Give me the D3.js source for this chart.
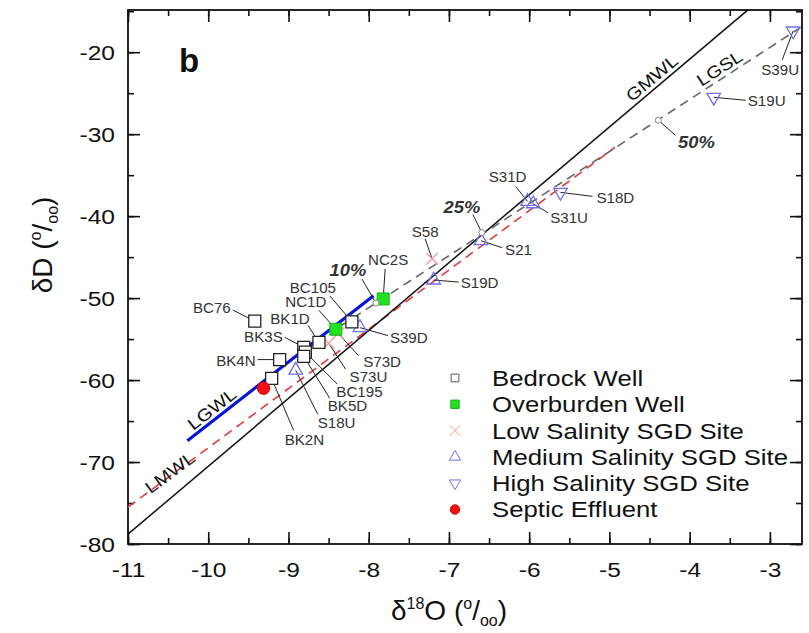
<!DOCTYPE html>
<html>
<head>
<meta charset="utf-8">
<script src="https://cdn.jsdelivr.net/npm/d3@7"></script>
<style>
  body { margin: 0; background: #fff; }
  text { font-family: "Liberation Sans", Arial, sans-serif; fill: #111; }
</style>
</head>
<body>
<div id="chart"></div>
<script>
// data: [name, d18O, dD]
var bedrockWells = [
  ["BC76", -9.42, -52.8], ["BK4N", -9.11, -57.5], ["BK2N", -9.21, -59.8],
  ["BK3S", -8.81, -56.0], ["BC195", -8.79, -56.6], ["BK5D", -8.81, -57.1],
  ["BK1D", -8.62, -55.4], ["BC105", -8.21, -52.9]
];
var overburdenWells = [["NC1D", -8.41, -53.8], ["NC2S", -7.82, -50.1]];
var lowSalinity = [["S73D", -8.38, -54.3], ["S73U", -8.50, -55.5], ["S58", -7.21, -45.2]];
var mediumSalinity = [
  ["S39D", -8.11, -53.6], ["S18U", -8.91, -58.8], ["S19D", -7.19, -47.8],
  ["S21", -6.60, -43.0], ["S31D", -6.02, -38.2], ["S31U", -5.95, -38.5]
];
var highSalinity = [["S18D", -5.61, -37.1], ["S19U", -3.70, -25.5], ["S39U", -2.71, -17.4]];
var septicEffluent = [["Septic", -9.31, -61.0]];
var mixingPoints = [["10%", -7.91, -50.6], ["25%", -6.59, -42.0], ["50%", -4.39, -28.3]];

// lines (end points)
var gmwl = [[-11, -78.8], [-3.27, -14.8]];
var lmwl = [[-11, -75.5], [-4.93, -31.6]];
var lgwl = [[-10.26, -67.4], [-7.94, -49.7]];
var lgsl = [[-8.35, -53.4], [-2.62, -17.0]];

var xTicks = [-11, -10, -9, -8, -7, -6, -5, -4, -3];
var yTicks = [-80, -70, -60, -50, -40, -30, -20];
var legendNames = ["Bedrock Well", "Overburden Well", "Low Salinity SGD Site",
  "Medium Salinity SGD Site", "High Salinity SGD Site", "Septic Effluent"];

// label layout: [name, text dx, text dy, anchor, leader dx, leader dy] (pixels from point)
var labelLayout = [
  ["BC76", -24, -13, "end", -22, -11],
  ["BK1D", -29, -23, "middle", -11, -17],
  ["BK3S", -21, -10, "end", -19, -10],
  ["BC195", 31, 40, "start", 32, 32],
  ["BK5D", 24, 50, "start", 26, 42],
  ["BK4N", -24, 1, "end", -22, 0],
  ["BK2N", 13, 62, "start", 22, 52],
  ["S18U", 22, 53, "start", 22, 44],
  ["NC1D", -30, -27, "middle", -17, -19],
  ["BC105", -39, -34, "middle", -22, -26],
  ["S39D", 30, 10, "start", 28, 8],
  ["S73D", 25, 29, "start", 20, 22],
  ["S73U", 21, 34, "start", 17, 26],
  ["NC2S", 5, -39, "middle", 2, -30],
  ["S58", -7, -27, "middle", -7, -20],
  ["S19D", 27, 3, "start", 25, 2],
  ["S21", 24, 9, "start", 21, 7],
  ["S31D", -20, -24, "middle", -12, -15],
  ["S31U", 17, 14, "start", 15, 9],
  ["S18D", 36, 6, "start", 32, 4],
  ["S19U", 34, 4, "start", 32, 3],
  ["S39U", -13, 39, "middle", -11, 29],
  ["10%", -28, -33, "middle", -14, -24],
  ["25%", -20, -26, "middle", -9, -18],
  ["50%", 38, 22, "middle", 17, 15]
];

var svgWidth = 809, svgHeight = 633;
var margin = { top: 10, right: 7, bottom: 89, left: 128 };
var width = svgWidth - margin.left - margin.right;
var height = svgHeight - margin.top - margin.bottom;
var stretch = 1.17;

var svg = d3.select("#chart").append("svg")
  .attr("width", svgWidth).attr("height", svgHeight);
var chart = svg.append("g")
  .attr("transform", "translate(" + margin.left + "," + margin.top + ")");

var x = d3.scaleLinear().domain([-11, -2.6]).range([0, width]);
var y = d3.scaleLinear().domain([-80, -14.85]).range([height, 0]);

var minorX = d3.range(-11, -2.5, 0.5);
var minorY = d3.range(-80, -14, 5);

function drawAxis(axisFn, values, size, transform, withLabels) {
  var g = chart.append("g").attr("transform", transform)
    .call(axisFn.tickValues(values).tickSizeInner(-size).tickSizeOuter(0)
      .tickFormat(withLabels ? function(d) { return String(d); } : ""));
  g.select(".domain").remove();
  g.selectAll(".tick line").attr("stroke", "#111").attr("stroke-width", 1.6);
  return g;
}
// minor and major ticks on all four sides
drawAxis(d3.axisBottom(x), minorX, 6, "translate(0," + height + ")", false);
drawAxis(d3.axisTop(x), minorX, 6, "translate(0,0)", false);
drawAxis(d3.axisLeft(y), minorY, 6, "translate(0,0)", false);
drawAxis(d3.axisRight(y), minorY, 6, "translate(" + width + ",0)", false);
drawAxis(d3.axisTop(x), xTicks, 12, "translate(0,0)", false);
drawAxis(d3.axisRight(y), yTicks, 12, "translate(" + width + ",0)", false);

var xAxisG = drawAxis(d3.axisBottom(x), xTicks, 12, "translate(0," + height + ")", true);
xAxisG.selectAll("text")
  .attr("y", 18).attr("dy", "0.72em")
  .style("font-size", "21px")
  .attr("transform", "scale(" + stretch + ",1)");
var yAxisG = drawAxis(d3.axisLeft(y), yTicks, 12, "translate(0,0)", true);
yAxisG.selectAll("text")
  .attr("x", -13 / stretch).attr("dy", "0.36em")
  .style("font-size", "21px")
  .attr("transform", "scale(" + stretch + ",1)");

chart.append("rect").attr("width", width).attr("height", height)
  .attr("fill", "none").attr("stroke", "#111").attr("stroke-width", 1.8);

var line = d3.line().x(function(d) { return x(d[0]); }).y(function(d) { return y(d[1]); });

chart.append("path").datum(lmwl).attr("d", line)
  .attr("fill", "none").attr("stroke", "#e0393e").attr("stroke-width", 1.6)
  .attr("stroke-dasharray", "9,6");
chart.append("path").datum(gmwl).attr("d", line)
  .attr("fill", "none").attr("stroke", "#111").attr("stroke-width", 1.5);
chart.append("path").datum(lgsl).attr("d", line)
  .attr("fill", "none").attr("stroke", "#666").attr("stroke-width", 1.6)
  .attr("stroke-dasharray", "9,6");
chart.append("path").datum(lgwl).attr("d", line)
  .attr("fill", "none").attr("stroke", "#0a14d8").attr("stroke-width", 3.2);

// rotated line labels: t = fraction along the line, off = baseline distance above it
function lineLabel(txt, pts, t, off) {
  var x0 = x(pts[0][0]), y0 = y(pts[0][1]), x1 = x(pts[1][0]), y1 = y(pts[1][1]);
  var a = Math.atan2(y1 - y0, x1 - x0);
  var cx = x0 + (x1 - x0) * t + Math.sin(a) * off;
  var cy = y0 + (y1 - y0) * t - Math.cos(a) * off;
  chart.append("text")
    .attr("transform", "translate(" + cx + "," + cy + ") rotate(" + (a * 180 / Math.PI) +
      ") scale(" + stretch + ",1)")
    .attr("text-anchor", "middle")
    .style("font-size", "17px")
    .text(txt);
}

var allPoints = bedrockWells.concat(overburdenWells, lowSalinity, mediumSalinity,
  highSalinity, mixingPoints);
var lookup = {};
allPoints.forEach(function(d) { lookup[d[0]] = d; });

// leader lines
chart.append("g").selectAll("line").data(labelLayout).enter().append("line")
  .attr("x1", function(d) { return x(lookup[d[0]][1]); })
  .attr("y1", function(d) { return y(lookup[d[0]][2]); })
  .attr("x2", function(d) { return x(lookup[d[0]][1]) + d[4]; })
  .attr("y2", function(d) { return y(lookup[d[0]][2]) + d[5]; })
  .attr("stroke", "#222").attr("stroke-width", 1);

// markers
var sym = d3.symbol();
function drawSymbols(g, data, type, size, fill, stroke, sw, rot) {
  g.selectAll(null).data(data).enter().append("path")
    .attr("d", sym.type(type).size(size)())
    .attr("transform", function(d) {
      return "translate(" + x(d[1]) + "," + y(d[2]) + ")" + (rot ? " rotate(180)" : "");
    })
    .attr("fill", fill).attr("stroke", stroke).attr("stroke-width", sw);
}
var marks = chart.append("g");
drawSymbols(marks, mediumSalinity, d3.symbolTriangle, 80, "none", "#6f6fe6", 1.3, false);
drawSymbols(marks, highSalinity, d3.symbolTriangle, 80, "none", "#6f6fe6", 1.3, true);
drawSymbols(marks, lowSalinity, d3.symbolX, 90, "none", "#f29a9a", 1.3, false);
drawSymbols(marks, bedrockWells, d3.symbolSquare, 144, "#fff", "#222", 1.3, false);
drawSymbols(marks, overburdenWells, d3.symbolSquare, 144, "#22e022", "#19b019", 1, false);
drawSymbols(marks, septicEffluent, d3.symbolCircle, 120, "#f01010", "#e00000", 1, false);
marks.selectAll(null).data(mixingPoints).enter().append("circle")
  .attr("cx", function(d) { return x(d[1]); })
  .attr("cy", function(d) { return y(d[2]); })
  .attr("r", 3).attr("fill", "#fff").attr("stroke", "#888").attr("stroke-width", 1);

// point labels
chart.append("g").selectAll("text").data(labelLayout).enter().append("text")
  .attr("transform", function(d) {
    return "translate(" + (x(lookup[d[0]][1]) + d[1]) + "," + (y(lookup[d[0]][2]) + d[2]) +
      ") scale(1.08,1)";
  })
  .attr("dy", "0.36em")
  .attr("text-anchor", function(d) { return d[3]; })
  .style("font-size", function(d) { return d[0].indexOf("%") > 0 ? "17px" : "14px"; })
  .style("font-weight", function(d) { return d[0].indexOf("%") > 0 ? "bold" : "normal"; })
  .style("font-style", function(d) { return d[0].indexOf("%") > 0 ? "italic" : "normal"; })
  .style("fill", "#333")
  .text(function(d) { return d[0]; });

lineLabel("GMWL", gmwl, 0.855, 4);
lineLabel("LGSL", lgsl, 0.836, 4);
lineLabel("LGWL", lgwl, 0.164, 4);
lineLabel("LMWL", lmwl, 0.09, -3);

// panel letter
chart.append("text").attr("x", 61).attr("y", 62)
  .attr("text-anchor", "middle")
  .style("font-size", "33px").style("font-weight", "bold").text("b");

// legend
var legendTypes = [
  [d3.symbolSquare, 60, "#fff", "#555", false],
  [d3.symbolSquare, 70, "#22e022", "#19b019", false],
  [d3.symbolX, 70, "none", "#f29a9a", false],
  [d3.symbolTriangle, 55, "none", "#6f6fe6", false],
  [d3.symbolTriangle, 55, "none", "#6f6fe6", true],
  [d3.symbolCircle, 70, "#f01010", "#e00000", false]
];
var legend = chart.append("g").attr("transform", "translate(327,368)");
legendNames.forEach(function(name, i) {
  var t = legendTypes[i];
  var row = legend.append("g").attr("transform", "translate(0," + (i * 26.3) + ")");
  row.append("path").attr("d", d3.symbol().type(t[0]).size(t[1])())
    .attr("transform", t[4] ? "rotate(180)" : null)
    .attr("fill", t[2]).attr("stroke", t[3]).attr("stroke-width", 1);
  row.append("text").attr("transform", "translate(37,0) scale(" + stretch + ",1)")
    .attr("dy", "0.36em").style("font-size", "22px").text(name);
});

// axis titles
var xt = svg.append("text").attr("x", 449).attr("y", 620)
  .attr("text-anchor", "middle").style("font-size", "28px");
xt.append("tspan").text("\u03b4");
xt.append("tspan").attr("dy", -11).style("font-size", "16px").text("18");
xt.append("tspan").attr("dy", 11).text("O (");
xt.append("tspan").attr("dy", -11).style("font-size", "16px").text("o");
xt.append("tspan").attr("dy", 11).text("/");
xt.append("tspan").attr("dy", 6).style("font-size", "16px").text("oo");
xt.append("tspan").attr("dy", -6).text(")");

var yt = svg.append("text")
  .attr("transform", "translate(52,245) rotate(-90)")
  .attr("text-anchor", "middle").style("font-size", "28px");
yt.append("tspan").text("\u03b4D (");
yt.append("tspan").attr("dy", -11).style("font-size", "16px").text("o");
yt.append("tspan").attr("dy", 11).text("/");
yt.append("tspan").attr("dy", 6).style("font-size", "16px").text("oo");
yt.append("tspan").attr("dy", -6).text(")");
</script>
</body>
</html>
